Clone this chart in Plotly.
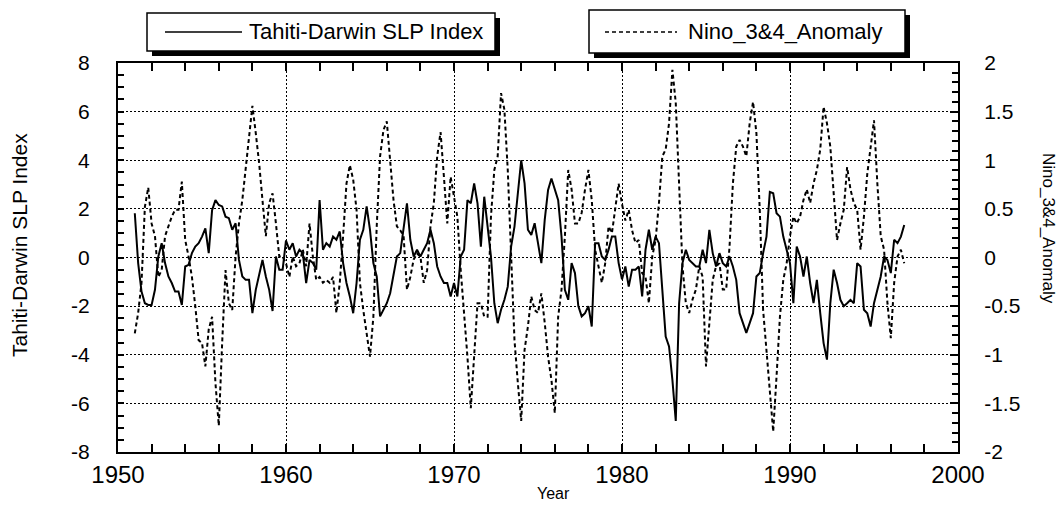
import plotly.graph_objects as go

# ---------------- data ----------------
STEP = 0.2  # years between samples

# Tahiti-Darwin SLP Index (left axis)
slp_1950s_start = 1951.0
slp_1950s = [1.82, -0.23, -1.4, -1.88, -1.95, -1.95, -1.33, 0.04, 0.59, -0.23,
             -0.78, -1.05, -1.4, -1.4, -1.95, -0.37, -0.3, 0.18, 0.45, 0.59,
             0.86, 1.2, 0.18, 1.95, 2.36, 2.16, 2.1, 1.68, 1.62, 1.14,
             1.41, -0.1, -0.78, -0.92, -0.92, -2.29, -1.33, -0.64, -0.1, -0.78,
             -1.33, -2.2, 0.04, -0.5, -0.5]
slp_1960s_start = 1960.0
slp_1960s = [0.7, 0.32, 0.59, 0.04, 0.32, 0.18, -1.05, -0.1, -0.23, -0.5,
             2.36, 0.32, 0.59, 0.45, 0.86, 0.73, 1.07, -0.23, -1.05, -1.6,
             -2.29, -1.05, 0.73, 1.14, 2.1, 1.14, -0.23, -0.78, -2.42, -2.15,
             -1.88, -1.47, -0.64, 0.04, 0.18, 1.27, 2.23, 0.73, 0.04, 0.32,
             0.04, 0.32, 0.59, 1.14, 0.59, -0.37, -0.78, -1.05, -1.05, -1.6]
slp_1970s_start = 1970.0
slp_1970s = [-1.05, -1.6, 0.04, 0.32, 2.36, 2.23, 3.05, 2.23, 0.45, 2.5,
             1.14, 0.04, -1.88, -2.7, -2.15, -1.74, -1.2, 0.45, 1.27, 2.64,
             4.0, 3.05, 1.14, 0.93, 1.41, 0.59, -0.23, 1.55, 2.78, 3.25,
             2.78, 2.36, 0.86, -1.33, -1.74, -0.23, -0.64, -2.0, -2.42, -2.29,
             -2.0, -2.84, 0.59, 0.59, 0.04, -0.1, 0.32, 0.86, 0.86, -0.23]
slp_1980s_start = 1980.0
slp_1980s = [-0.9, -0.37, -1.2, -0.5, -0.5, -0.37, -1.6, 0.32, 1.14, 0.32,
             0.86, 0.59, -1.33, -3.25, -3.66, -5.03, -6.72, -1.88, -0.23, 0.32,
             -0.1, -0.23, -0.37, -0.37, 0.32, -0.23, 1.14, 0.18, -0.37, 0.18,
             -0.23, -0.37, 0.04, -0.37, -0.92, -2.29, -2.7, -3.1, -2.7, -2.29,
             -0.78, -0.64, 0.18, 0.86, 2.7, 2.64, 1.82, 1.68, 0.86, 0.32]
slp_1990s_start = 1990.0
slp_1990s = [-0.23, -1.88, 0.45, 0.04, -0.78, 0.04, -1.05, -1.88, -0.92, -2.29,
             -3.52, -4.2, -1.88, -0.5, -1.05, -1.74, -2.0, -1.88, -1.74, -1.88,
             -0.23, -0.37, -2.15, -2.29, -2.84, -1.88, -1.33, -0.78, 0.04, -0.1,
             -0.64, 0.73, 0.59, 0.86, 1.34]

# Nino_3&4_Anomaly (right axis)
nino_1950s_start = 1951.0
nino_1950s = [-0.78, -0.57, -0.26, 0.52, 0.72, 0.35, 0.22, -0.2, -0.13, 0.22,
              0.32, 0.42, 0.49, 0.49, 0.78, 0.18, 0.01, -0.2, -0.5, -0.85,
              -0.88, -1.12, -0.74, -0.61, -1.29, -1.73, -0.88, -0.13, -0.47, -0.54,
              0.01, 0.35, 0.59, 0.93, 1.21, 1.56, 1.28, 0.97, 0.59, 0.22,
              0.56, 0.66, 0.35, 0.01, 0.01]
nino_1960s_start = 1960.0
nino_1960s = [-0.06, -0.2, 0.01, -0.09, -0.06, 0.08, -0.09, 0.35, 0.01, -0.23,
              -0.2, -0.26, -0.23, -0.26, -0.2, -0.57, -0.26, 0.22, 0.76, 0.95,
              0.8, 0.49, -0.26, -0.54, -0.78, -1.02, -0.61, 0.32, 1.04, 1.31,
              1.4, 0.97, 0.59, 0.32, 0.28, 0.22, -0.33, -0.2, -0.02, 0.04,
              0.01, -0.26, -0.13, 0.32, 0.56, 1.04, 1.29, 0.83, 0.35, 0.83]
nino_1970s_start = 1970.0
nino_1970s = [0.63, 0.42, -0.13, -0.57, -1.02, -1.55, -1.02, -0.47, -0.47, -0.61,
              -0.61, 0.42, 0.9, 1.04, 1.69, 1.52, 0.9, -0.06, -0.85, -1.29,
              -1.68, -0.95, -0.71, -0.4, -0.54, -0.57, -0.37, -0.67, -1.02, -1.26,
              -1.6, -0.61, -0.33, 0.22, 0.9, 0.7, 0.35, 0.35, 0.46, 0.7,
              0.9, 0.59, 0.08, -0.09, -0.26, -0.06, 0.32, 0.25, 0.52, 0.76]
nino_1980s_start = 1980.0
nino_1980s = [0.55, 0.38, 0.49, 0.28, 0.15, 0.18, -0.16, -0.2, -0.47, 0.01,
              0.18, 0.56, 1.04, 1.11, 1.38, 1.93, 1.59, 0.8, -0.09, -0.47,
              -0.57, -0.43, -0.33, -0.09, -0.2, -1.12, -0.71, -0.23, -0.09, -0.06,
              -0.33, -0.33, 0.11, 0.76, 1.14, 1.21, 1.14, 1.04, 1.38, 1.6,
              1.28, 0.49, -0.54, -0.95, -1.33, -1.79, -1.22, -0.61, -0.23, -0.06]
nino_1990s_start = 1990.0
nino_1990s = [0.22, 0.42, 0.35, 0.42, 0.59, 0.7, 0.56, 0.76, 0.9, 1.11,
              1.55, 1.38, 1.14, 0.7, 0.18, 0.35, 0.49, 0.93, 0.7, 0.56,
              0.49, 0.08, 0.42, 0.86, 1.11, 1.41, 0.76, 0.22, 0.08, -0.47,
              -0.83, -0.26, 0.01, 0.08, -0.06]

x_ticks = [1950, 1960, 1970, 1980, 1990, 2000]
y_left_ticks = [-8, -6, -4, -2, 0, 2, 4, 6, 8]
y_right_ticks = [-2, -1.5, -1, -0.5, 0, 0.5, 1, 1.5, 2]

series1_name = "Tahiti-Darwin SLP Index"
series2_name = "Nino_3&4_Anomaly"


def build(chunks):
    xs, ys = [], []
    for start, vals in chunks:
        for i, v in enumerate(vals):
            xs.append(round(start + STEP * i, 3))
            ys.append(v)
    return xs, ys


slp_x, slp_y = build([(slp_1950s_start, slp_1950s), (slp_1960s_start, slp_1960s),
                      (slp_1970s_start, slp_1970s), (slp_1980s_start, slp_1980s),
                      (slp_1990s_start, slp_1990s)])
nino_x, nino_y = build([(nino_1950s_start, nino_1950s), (nino_1960s_start, nino_1960s),
                        (nino_1970s_start, nino_1970s), (nino_1980s_start, nino_1980s),
                        (nino_1990s_start, nino_1990s)])


def fmt(v):
    return ("%g" % v)


FONT = "Liberation Sans, Arial, Helvetica, sans-serif"

fig = go.Figure()
fig.add_trace(go.Scatter(x=slp_x, y=slp_y, mode="lines", name=series1_name,
                         line=dict(color="black", width=2), yaxis="y"))
fig.add_trace(go.Scatter(x=nino_x, y=nino_y, mode="lines", name=series2_name,
                         line=dict(color="black", width=2, dash="4px,3px"), yaxis="y2"))

# plot area in pixels
L, R, T, B = 118, 958, 63, 452
W, H = 1063, 505
PW, PH = R - L, B - T


def px(X):
    return (X - L) / PW


def py(Y):
    return (B - Y) / PH


fig.update_layout(
    width=W, height=H,
    margin=dict(l=L, r=W - R, t=T, b=H - B, pad=0),
    paper_bgcolor="white", plot_bgcolor="white",
    showlegend=False,
    font=dict(family=FONT, color="black"),
    xaxis=dict(
        range=[1950, 2000], tickmode="array", tickvals=x_ticks,
        ticktext=[str(v) for v in x_ticks],
        ticks="inside", ticklen=8, tickwidth=1.5, tickcolor="black",
        showline=True, linewidth=2, linecolor="black", mirror="allticks",
        showgrid=True, gridcolor="black", gridwidth=1, griddash="2px,2px",
        zeroline=False, tickfont=dict(size=24, family=FONT, color="black"),
        ticklabelstandoff=0,
        minor=dict(tickmode="linear", tick0=1950, dtick=2, ticks="inside",
                   ticklen=6, tickwidth=1.5, tickcolor="black", showgrid=False),
    ),
    yaxis=dict(
        range=[-8, 8], tickmode="array", tickvals=y_left_ticks,
        ticktext=[fmt(v) for v in y_left_ticks],
        ticks="inside", ticklen=6, tickwidth=1.5, tickcolor="black",
        showline=True, linewidth=2, linecolor="black", mirror=False,
        showgrid=True, gridcolor="black", gridwidth=1, griddash="2px,2px",
        zeroline=False, tickfont=dict(size=21, family=FONT, color="black"),
        ticklabelstandoff=22,
        minor=dict(tickmode="linear", tick0=0, dtick=0.5, ticks="inside",
                   ticklen=6, tickwidth=1.5, tickcolor="black", showgrid=False),
    ),
    yaxis2=dict(
        overlaying="y", side="right",
        range=[-2, 2], tickmode="array", tickvals=y_right_ticks,
        ticktext=[fmt(v) for v in y_right_ticks],
        ticks="inside", ticklen=8, tickwidth=1.5, tickcolor="black",
        showline=True, linewidth=2, linecolor="black",
        showgrid=False, zeroline=False,
        tickfont=dict(size=21, family=FONT, color="black"),
        ticklabelstandoff=20,
        minor=dict(tickmode="linear", tick0=0, dtick=0.1, ticks="inside",
                   ticklen=6, tickwidth=1.5, tickcolor="black", showgrid=False),
    ),
)

shapes = []
annotations = []


def legend_box(x0, y0, x1, y1, lx0, lx1, ly, dash, tx, text):
    # drop shadow
    shapes.append(dict(type="rect", xref="paper", yref="paper",
                       x0=px(x0 + 5), x1=px(x1 + 5), y0=py(y1 + 5), y1=py(y0 + 5),
                       fillcolor="black", line=dict(width=0)))
    shapes.append(dict(type="rect", xref="paper", yref="paper",
                       x0=px(x0), x1=px(x1), y0=py(y1), y1=py(y0),
                       fillcolor="white", line=dict(color="black", width=1.5)))
    shapes.append(dict(type="line", xref="paper", yref="paper",
                       x0=px(lx0), x1=px(lx1), y0=py(ly), y1=py(ly),
                       line=dict(color="black", width=1.5, dash=dash)))
    annotations.append(dict(xref="paper", yref="paper", x=px(tx), y=py(ly),
                            xanchor="left", yanchor="middle", showarrow=False,
                            text=text, font=dict(size=22, family=FONT, color="black")))


legend_box(147, 13, 495, 51, 165, 242, 32, "solid", 247, series1_name)
legend_box(589, 10, 905, 53, 605, 677, 32, "4px,3px", 686, series2_name)

# axis titles
annotations.append(dict(xref="paper", yref="paper", x=px(20), y=py(245),
                        xanchor="center", yanchor="middle", showarrow=False,
                        textangle=-90, text=series1_name,
                        font=dict(size=21, family=FONT, color="black")))
annotations.append(dict(xref="paper", yref="paper", x=px(1049), y=py(228),
                        xanchor="center", yanchor="middle", showarrow=False,
                        textangle=90, text=series2_name,
                        font=dict(size=17, family=FONT, color="black")))
annotations.append(dict(xref="paper", yref="paper", x=px(553), y=py(493),
                        xanchor="center", yanchor="middle", showarrow=False,
                        text="Year", font=dict(size=16, family=FONT, color="black")))

fig.update_layout(shapes=shapes, annotations=annotations)

fig.write_html("out.html", config={"displayModeBar": False},
               post_script="document.body.style.margin='0';document.body.style.padding='0';")
